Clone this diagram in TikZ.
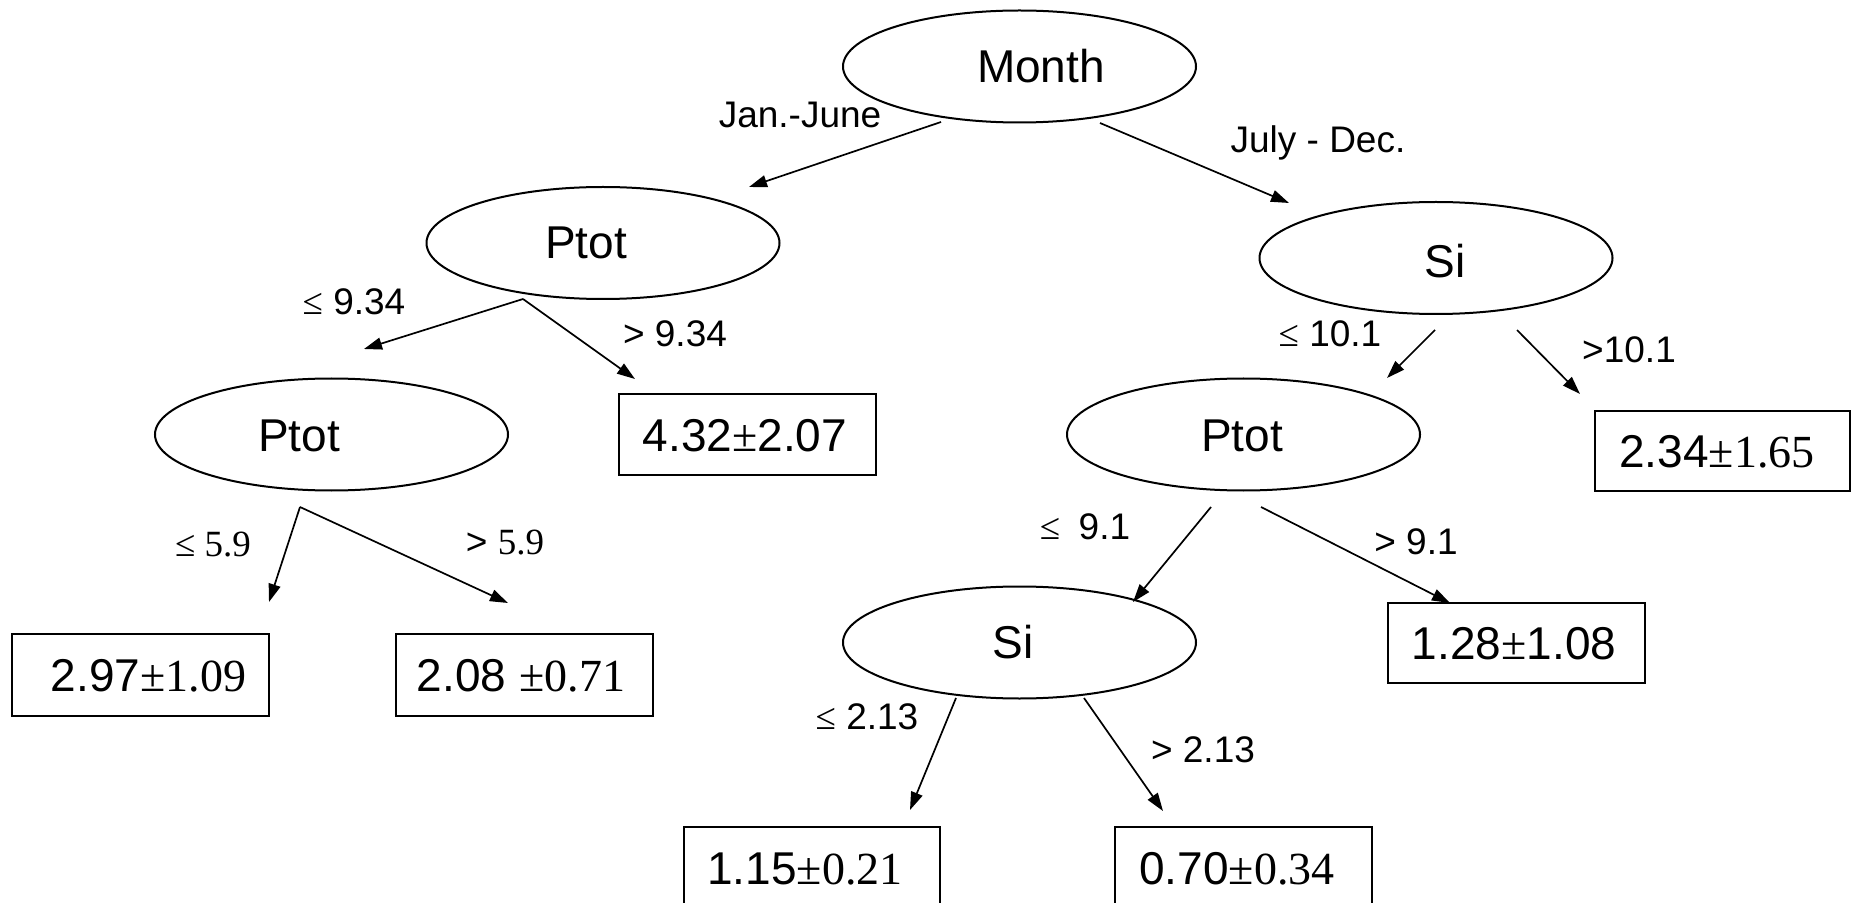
\documentclass[tikz,border=0pt]{standalone}
\usepackage{fontspec}
\setmainfont{Liberation Sans}
\newfontfamily\tnr{Liberation Serif}
\usetikzlibrary{shapes.geometric,arrows.meta}
\begin{document}
\begin{tikzpicture}[x=0.5pt,y=-0.5pt,
  ell/.style={draw, ellipse, line width=1pt, inner sep=0pt, minimum width=176.5pt, minimum height=56pt},
  leaf/.style={draw, rectangle, line width=0.9pt, inner sep=0pt},
  big/.style={font=\fontsize{23pt}{27pt}\selectfont, inner sep=0pt, text height=16.5pt, text depth=0pt},
  lab/.style={font=\fontsize{18.5pt}{22pt}\selectfont, inner sep=0pt, text height=13.25pt, text depth=0pt},
  arr/.style={line width=0.85pt, -{Triangle[length=9pt,width=6pt]}}]
\clip (0,0) rectangle (1852,903);
\fill[white] (0,0) rectangle (1852,903);
% ellipses
\node[ell] (month) at (1019.5,66.5) {};
\node[big] (monthT) at (1041,66.5) {Month};
\node[ell] (ptotA) at (603,243) {};
\node[big] (ptotAT) at (586,242) {Ptot};
\node[ell] (siA) at (1436,258) {};
\node[big] (siAT) at (1445,261) {Si};
\node[ell] (ptotB) at (331.5,434.5) {};
\node[big] (ptotBT) at (299,435) {Ptot};
\node[ell] (ptotC) at (1243.5,434.5) {};
\node[big] (ptotCT) at (1242,435) {Ptot};
\node[ell] (siB) at (1019.5,642.5) {};
\node[big] (siBT) at (1013,642) {Si};
% leaves
\node[leaf, minimum width=128.5pt, minimum height=40.5pt] (b432) at (747.5,434.5) {};
\node[big] (b432T) at (745,435) {4.32{\tnr ±}2.07};
\node[leaf, minimum width=127.5pt, minimum height=40pt] (b234) at (1722.5,451) {};
\node[big] (b234T) at (1717,451) {2.34{\tnr ±1.65}};
\node[leaf, minimum width=128.5pt, minimum height=41pt] (b297) at (140.5,675) {};
\node[big] (b297T) at (148.5,675) {2.97{\tnr ±1.09}};
\node[leaf, minimum width=128.5pt, minimum height=41pt] (b208) at (524.5,675) {};
\node[big] (b208T) at (521,675) {2.08 {\tnr ±0.71}};
\node[leaf, minimum width=128.5pt, minimum height=40pt] (b128) at (1516.5,643) {};
\node[big] (b128T) at (1514,643) {1.28{\tnr ±}1.08};
\node[leaf, minimum width=128pt, minimum height=40.5pt] (b115) at (812,867.5) {};
\node[big] (b115T) at (805,867.5) {1.15{\tnr ±0.21}};
\node[leaf, minimum width=128.5pt, minimum height=40.5pt] (b070) at (1243.5,867.5) {};
\node[big] (b070T) at (1237,867.5) {0.70{\tnr ±0.34}};
% arrow end points
\coordinate (a1s) at (941,122);  \coordinate (a1e) at (749,187);
\coordinate (a2s) at (1100,123); \coordinate (a2e) at (1289,203);
\coordinate (a3s) at (523,299);  \coordinate (a3e) at (364,349);
\coordinate (a4e) at (635,379);
\coordinate (a5s) at (1435,330); \coordinate (a5e) at (1387,378);
\coordinate (a6s) at (1517,330); \coordinate (a6e) at (1580,394);
\coordinate (a7s) at (300,507);  \coordinate (a7e) at (269,602);
\coordinate (a8e) at (508,603);
\coordinate (a9s) at (1211,507); \coordinate (a9e) at (1133,602);
\coordinate (a10s) at (1261,507); \coordinate (a10e) at (1450,603);
\coordinate (a11s) at (956,698); \coordinate (a11e) at (910,810);
\coordinate (a12s) at (1084,698); \coordinate (a12e) at (1163,811);
\draw[arr] (a1s) -- (a1e);
\draw[arr] (a2s) -- (a2e);
\draw[arr] (a3s) -- (a3e);
\draw[arr] (a3s) -- (a4e);
\draw[arr] (a5s) -- (a5e);
\draw[arr] (a6s) -- (a6e);
\draw[arr] (a7s) -- (a7e);
\draw[arr] (a7s) -- (a8e);
\draw[arr] (a9s) -- (a9e);
\draw[arr] (a10s) -- (a10e);
\draw[arr] (a11s) -- (a11e);
\draw[arr] (a12s) -- (a12e);
% labels
\node[lab] (l1) at (800,114) {Jan.-June};
\node[lab] (l2) at (1318,139) {July - Dec.};
\node[lab] (l3) at (354,301) {{\tnr ≤} 9.34};
\node[lab] (l4) at (675,333) {> 9.34};
\node[lab] (l5) at (1330,333) {{\tnr ≤} 10.1};
\node[lab] (l6) at (1629,349) {>10.1};
\node[lab] (l7) at (213,543) {{\tnr ≤ 5.9}};
\node[lab] (l8) at (505,541) {> {\tnr 5.9}};
\node[lab] (l9) at (1085,526) {{\tnr ≤}\enspace 9.1};
\node[lab] (l10) at (1416,541) {> 9.1};
\node[lab] (l11) at (867,716) {{\tnr ≤} 2.13};
\node[lab] (l12) at (1203,749) {> 2.13};
\end{tikzpicture}
\end{document}
